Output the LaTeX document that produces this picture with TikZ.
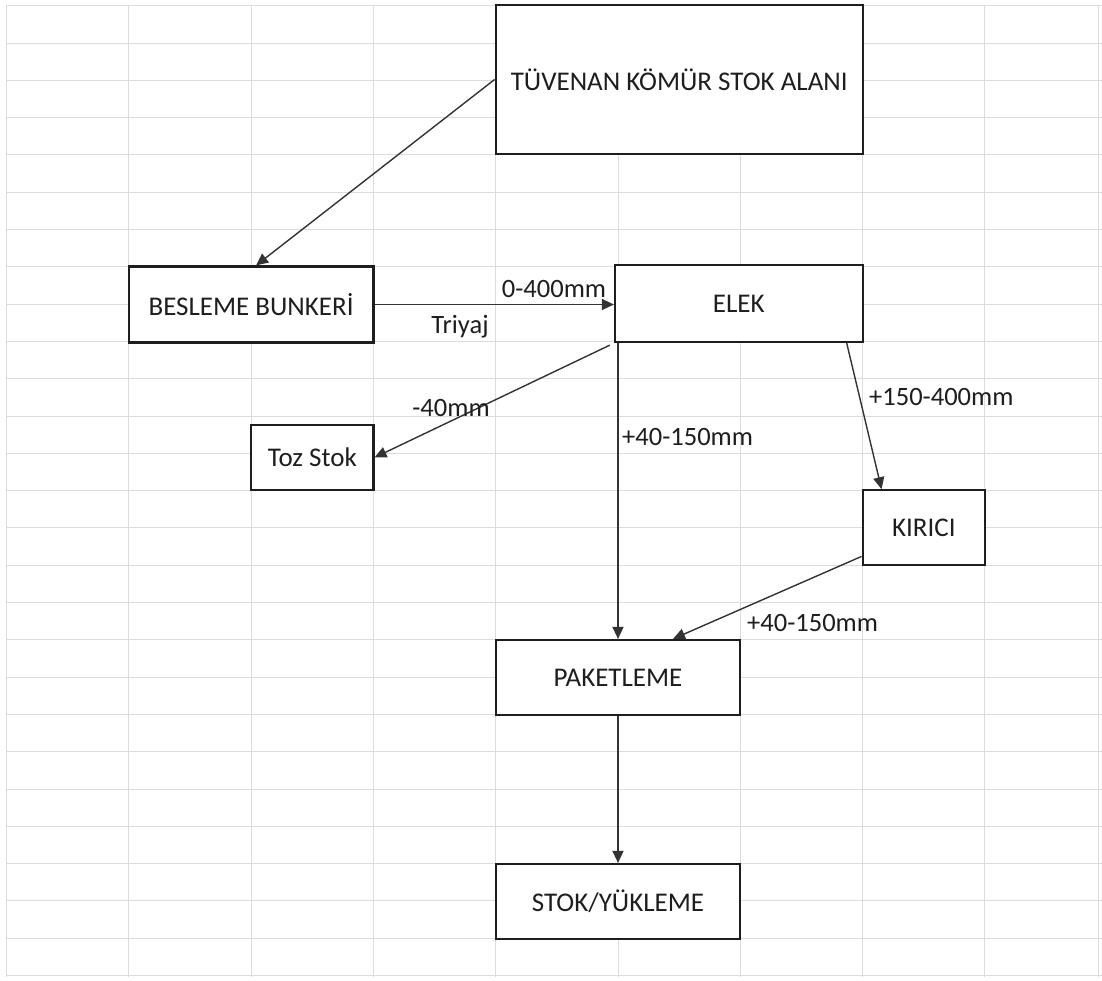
\documentclass[tikz,border=0pt]{standalone}
\usepackage{fontspec}
\setmainfont{Carlito}
\usetikzlibrary{arrows.meta}
\definecolor{gridc}{HTML}{DCDCDC}
\definecolor{ink}{HTML}{1E1E1E}
\definecolor{arrowc}{HTML}{333333}
\tikzset{
  box/.style={draw=ink, line width=2.2pt, fill=white, inner sep=0pt, text=ink,
    font=\fontsize{27}{32}\selectfont},
  lbl/.style={inner sep=0pt, text=ink, font=\fontsize{26.5}{31}\selectfont},
  flow/.style={draw=arrowc, line width=1.4pt, -{Triangle[length=12pt,width=11pt]}},
  gridline/.style={draw=gridc, line width=0.9pt}
}
\begin{document}
\begin{tikzpicture}[x=1pt,y=-1pt]
\useasboundingbox (0,0) rectangle (1102,980);
\fill[white] (0,0) rectangle (1102,980);
% spreadsheet grid
\foreach \i in {0,...,8} \draw[gridline] ({6.5+122.3*\i},5) -- ({6.5+122.3*\i},977);
\draw[gridline] (1098,5) -- (1098,977);
\foreach \j in {0,...,26} \draw[gridline] (6.5,{5.7+37.3*\j}) -- (1102,{5.7+37.3*\j});
% boxes
\node[box, minimum width=367pt, minimum height=149pt] (tuv) at (679.2,79.5) {TÜVENAN KÖMÜR STOK ALANI};
\node[box, minimum width=244.6pt, minimum height=76pt] (bes) at (251.1,304.5) {BESLEME BUNKERİ};
\node[box, minimum width=247.6pt, minimum height=77pt] (elek) at (738.8,303.5) {ELEK};
\node[box, minimum width=122.3pt, minimum height=65pt] (toz) at (312.3,457.5) {Toz Stok};
\node[box, minimum width=122.3pt, minimum height=75pt] (kir) at (923.8,527.8) {KIRICI};
\node[box, minimum width=244.6pt, minimum height=75pt] (pak) at (618,677.5) {PAKETLEME};
\node[box, minimum width=244.6pt, minimum height=75pt] (stok) at (618,901.5) {STOK/YÜKLEME};
% connectors
\draw[flow] (tuv.west) -- ([xshift=5pt]bes.north);
\draw[flow] (bes.east) -- (bes.east -| elek.west);
\draw[flow] ([xshift=-4pt,yshift=-2pt]elek.south west) -- (toz.east);
\draw[flow] (pak.north |- elek.south) -- (pak.north);
\draw[flow] ([xshift=-17pt]elek.south east) -- ([xshift=20pt]kir.north west);
\draw[flow] ([yshift=10pt]kir.south west) -- ([xshift=55pt]pak.north);
\draw[flow] (pak.south) -- (stok.north);
% labels
\node[lbl] (l1) at (554,289) {0-400mm};
\node[lbl] (l2) at (460,327) {Triyaj};
\node[lbl] (l3) at (451,408) {-40mm};
\node[lbl, anchor=west] (l4) at (622,437) {+40-150mm};
\node[lbl, anchor=west] (l5) at (869,397) {+150-400mm};
\node[lbl, anchor=west] (l6) at (747,623) {+40-150mm};
\end{tikzpicture}
\end{document}
